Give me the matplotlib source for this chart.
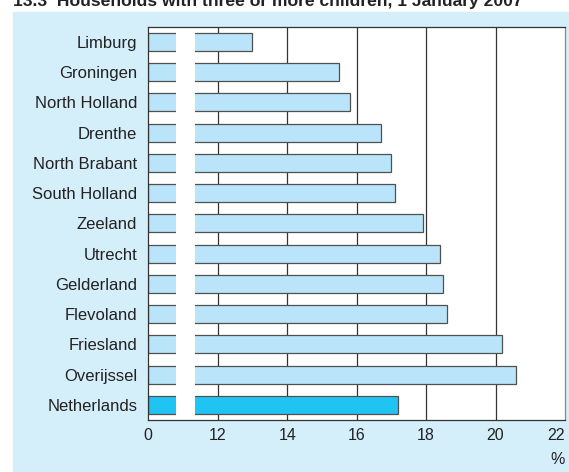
import matplotlib
matplotlib.use("Agg")
import matplotlib.pyplot as plt
from matplotlib.patches import Rectangle

plt.rcParams["font.family"] = ["Liberation Sans", "DejaVu Sans"]

regions = ["Limburg", "Groningen", "North Holland", "Drenthe", "North Brabant",
           "South Holland", "Zeeland", "Utrecht", "Gelderland", "Flevoland",
           "Friesland", "Overijssel", "Netherlands"]
shares = [13.0, 15.5, 15.8, 16.7, 17.0, 17.1, 17.9, 18.4, 18.5, 18.6, 20.2, 20.6, 17.2]
x_ticks = [0, 12, 14, 16, 18, 20, 22]

# broken axis: 0 sits two units left of 12
BREAK = 10


def to_axis(v):
    return v - BREAK if v >= 12 else v


panel = "#d4eefa"
bar_c = "#b9e4f9"
nl_c = "#1fc4f2"
txt = "#222222"

fig = plt.figure(figsize=(5.69, 4.72), dpi=100)
fig.patches.append(Rectangle((12.7 / 569, 0), 1, 1 - 12 / 472,
                             transform=fig.transFigure, color=panel, zorder=-10))

ax = fig.add_axes([148.3 / 569, 1 - 420 / 472, (565 - 148.3) / 569, (420 - 26.7) / 472])
ax.set_facecolor("white")

ypos = list(range(len(regions)))
colors = [nl_c if r == "Netherlands" else bar_c for r in regions]
ax.barh(ypos, [to_axis(v) for v in shares], height=0.6, color=colors,
        edgecolor="#505050", linewidth=0.9, zorder=2)

for t in x_ticks[1:-1]:
    ax.axvline(to_axis(t), color="#333333", lw=0.9, zorder=1)

# white gap marking the axis break
ax.axvspan(0.785, 1.34, color="white", zorder=2.2, lw=0)

ax.set_xlim(0, to_axis(22))
ax.set_ylim(len(regions) - 0.5, -0.5)
ax.set_xticks([to_axis(t) for t in x_ticks], labels=[str(t) for t in x_ticks])
ax.set_yticks(ypos, labels=regions)
ax.tick_params(axis="x", length=0, pad=6, labelsize=11.5, labelcolor=txt)
ax.tick_params(axis="y", length=0, pad=8, labelsize=12, labelcolor=txt)
ax.get_xticklabels()[-1].set_horizontalalignment("right")
for s in ax.spines.values():
    s.set_color("#333333")
    s.set_linewidth(0.9)
    s.set_zorder(3)
ax.spines["right"].set_color("#888888")

fig.text(13 / 569, 1 - 6 / 472, "13.3  Households with three or more children, 1 January 2007",
         fontsize=12.6, fontweight="bold", color=txt, va="baseline", ha="left")
fig.text(558 / 569, 1 - 460 / 472, "%", fontsize=11.5, color=txt, ha="center", va="center")

fig.savefig("out.png", dpi=100)
